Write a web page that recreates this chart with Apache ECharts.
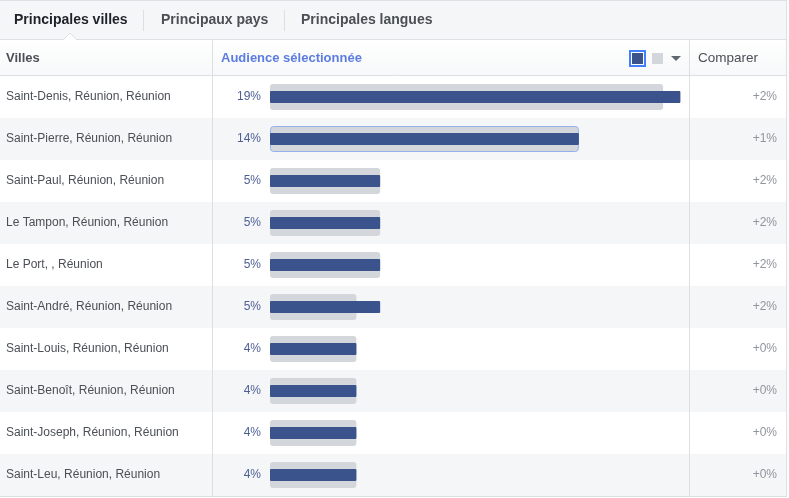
<!DOCTYPE html>
<html><head><meta charset="utf-8">
<script src="https://cdn.jsdelivr.net/npm/echarts@6/dist/echarts.min.js"></script>
<style>html,body{margin:0;padding:0;background:#fff}#c{width:789px;height:498px}</style>
</head><body><div id="c"></div>
<script>
const cities = ['Saint-Denis, Réunion, Réunion','Saint-Pierre, Réunion, Réunion','Saint-Paul, Réunion, Réunion','Le Tampon, Réunion, Réunion','Le Port, , Réunion','Saint-André, Réunion, Réunion','Saint-Louis, Réunion, Réunion','Saint-Benoît, Réunion, Réunion','Saint-Joseph, Réunion, Réunion','Saint-Leu, Réunion, Réunion'];
const pctLabels = ['19%','14%','5%','5%','5%','5%','4%','4%','4%','4%'];
const audience = [19, 14.3, 5.1, 5.1, 5.1, 5.1, 4, 4, 4, 4];
const facebookAll = [18.2, 14.3, 5.1, 5.1, 5.1, 4, 4, 4, 4, 4];
const compareLabels = ['+2%','+1%','+2%','+2%','+2%','+2%','+0%','+0%','+0%','+0%'];
const tabs = ['Principales villes','Principaux pays','Principales langues'];

const FONT = '"Liberation Sans", Arial, sans-serif';
const chart = echarts.init(document.getElementById('c'), null, {renderer:'canvas'});
const line = '#dddfe2';
const hidden = {show:false};
chart.setOption({
  animation:false,
  textStyle:{fontFamily:FONT},
  grid:[
    {left:0, right:3, top:76, height:420},
    {left:270, right:87, top:76, height:420}
  ],
  xAxis:[
    {gridIndex:0, type:'value', min:0, max:1, show:false},
    {gridIndex:1, type:'value', min:0, max:20, show:false}
  ],
  yAxis:[
    {gridIndex:0, type:'category', inverse:true, data:cities,
     axisLine:hidden, axisTick:hidden, splitLine:hidden,
     splitArea:{show:true, areaStyle:{color:['#ffffff','#f5f6f7']}},
     axisLabel:{inside:true, margin:6, color:'#4b4f56', fontSize:12, fontFamily:FONT}},
    {gridIndex:0, type:'category', inverse:true, position:'right', data:cities,
     axisLine:hidden, axisTick:hidden, splitLine:hidden,
     axisLabel:{inside:true, margin:9, color:'#90949c', fontSize:12, fontFamily:FONT,
       formatter:(v,i)=>compareLabels[i]}},
    {gridIndex:1, type:'category', inverse:true, data:cities,
     axisLine:hidden, axisTick:hidden, splitLine:hidden,
     axisLabel:{margin:9, color:'#4e5f95', fontSize:12, fontFamily:FONT,
       formatter:(v,i)=>pctLabels[i]}},
    {gridIndex:1, type:'category', inverse:true, data:cities, show:false}
  ],
  series:[
    {type:'bar', xAxisIndex:1, yAxisIndex:2, barWidth:26, silent:true,
     data:facebookAll.map((v,i)=> i===1 ? {value:v, itemStyle:{borderColor:'#94b1ee', borderWidth:1}} : v),
     itemStyle:{color:'#d3d6db', borderRadius:3}},
    {type:'bar', xAxisIndex:1, yAxisIndex:3, barWidth:12, silent:true, z:3,
     data:audience, itemStyle:{color:'#3b538c', borderRadius:1}}
  ],
  graphic:[
    {type:'rect', z:-10, shape:{x:0,y:0,width:787,height:39}, style:{fill:'#f5f6f7'}},
    {type:'rect', z:-10, shape:{x:0,y:40,width:787,height:35},
     style:{fill:{type:'linear',x:0,y:0,x2:0,y2:1,colorStops:[{offset:0,color:'#ffffff'},{offset:1,color:'#f7f8f9'}]}}},
    {type:'line', z:50, shape:{x1:0,y1:0.5,x2:787,y2:0.5}, style:{stroke:line,lineWidth:1}},
    {type:'line', z:50, shape:{x1:0,y1:39.5,x2:787,y2:39.5}, style:{stroke:line,lineWidth:1}},
    {type:'line', z:50, shape:{x1:0,y1:75.5,x2:787,y2:75.5}, style:{stroke:line,lineWidth:1}},
    {type:'line', z:50, shape:{x1:0,y1:496.5,x2:787,y2:496.5}, style:{stroke:line,lineWidth:1}},
    {type:'line', z:50, shape:{x1:786.5,y1:0,x2:786.5,y2:497}, style:{stroke:line,lineWidth:1}},
    {type:'line', z:50, shape:{x1:212.5,y1:40,x2:212.5,y2:496}, style:{stroke:line,lineWidth:1}},
    {type:'line', z:50, shape:{x1:689.5,y1:40,x2:689.5,y2:496}, style:{stroke:line,lineWidth:1}},
    {type:'line', z:50, shape:{x1:143.5,y1:10,x2:143.5,y2:31}, style:{stroke:line,lineWidth:1}},
    {type:'line', z:50, shape:{x1:284.5,y1:10,x2:284.5,y2:31}, style:{stroke:line,lineWidth:1}},
    {type:'polyline', z:51, shape:{points:[[63,40],[70,33],[77,40]]}, style:{stroke:line,fill:'#ffffff',lineWidth:1}},
    {type:'text', z:60, x:14, y:20, style:{text:tabs[0], font:'bold 14px '+FONT, fill:'#1d2129', verticalAlign:'middle'}},
    {type:'text', z:60, x:161, y:20, style:{text:tabs[1], font:'bold 14px '+FONT, fill:'#4b4f56', verticalAlign:'middle'}},
    {type:'text', z:60, x:301, y:20, style:{text:tabs[2], font:'bold 14px '+FONT, fill:'#4b4f56', verticalAlign:'middle'}},
    {type:'text', z:60, x:6, y:58, style:{text:'Villes', font:'bold 13px '+FONT, fill:'#4b4f56', verticalAlign:'middle'}},
    {type:'text', z:60, x:221, y:58, style:{text:'Audience sélectionnée', font:'bold 13px '+FONT, fill:'#5b7ce0', verticalAlign:'middle'}},
    {type:'text', z:60, x:698, y:58, style:{text:'Comparer', font:'13.5px '+FONT, fill:'#4b4f56', verticalAlign:'middle'}},
    {type:'rect', z:60, shape:{x:629,y:50,width:17,height:17}, style:{fill:'#4080ff'}},
    {type:'rect', z:61, shape:{x:631,y:52,width:13,height:13}, style:{fill:'#ffffff'}},
    {type:'rect', z:62, shape:{x:632,y:53,width:11,height:11}, style:{fill:'#3b538c'}},
    {type:'rect', z:60, shape:{x:652,y:53,width:11,height:11}, style:{fill:'#d3d6db'}},
    {type:'polygon', z:60, shape:{points:[[671,56],[681,56],[676,61]]}, style:{fill:'#606770'}}
  ]
});
</script></body></html>
